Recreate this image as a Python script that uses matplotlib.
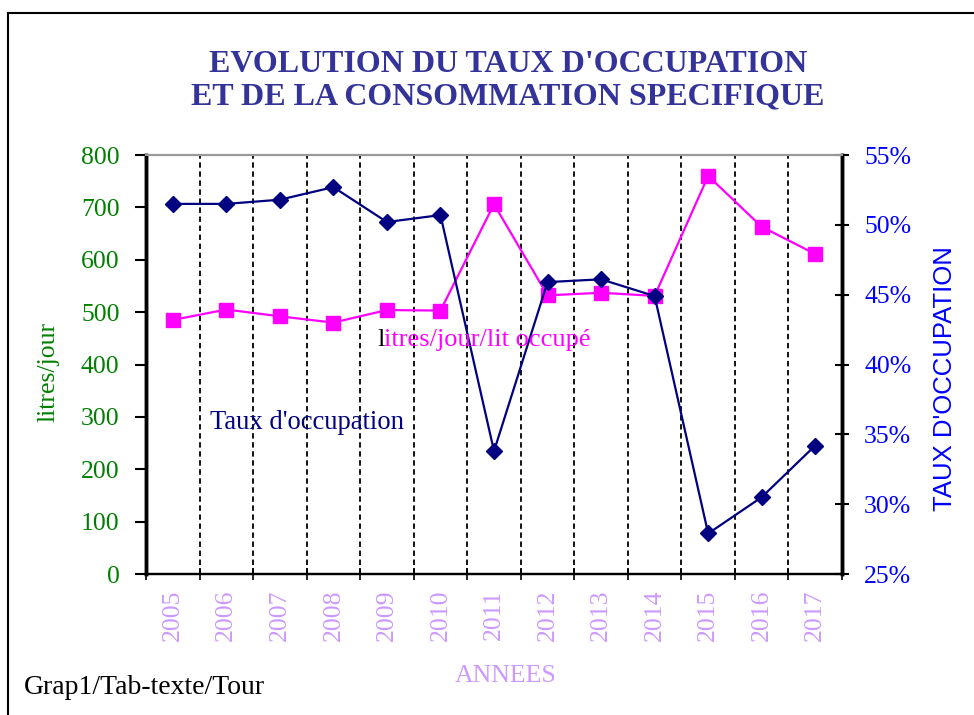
#!/usr/bin/env python3

import matplotlib
matplotlib.use("Agg")
import matplotlib.pyplot as plt
from matplotlib.lines import Line2D
from matplotlib.ticker import FixedLocator, FuncFormatter

plt.rcParams["font.family"] = ["Liberation Serif", "DejaVu Serif"]

# data
annees = ["2005", "2006", "2007", "2008", "2009", "2010", "2011",
          "2012", "2013", "2014", "2015", "2016", "2017"]
litres_lit = [485, 505, 492, 480, 504, 503, 706, 532, 537, 531, 760, 663, 611]
taux_occ = [51.5, 51.5, 51.8, 52.7, 50.2, 50.7, 33.8, 45.9, 46.1, 44.9, 27.9, 30.5, 34.2]

GREEN = "#008000"
BLUE = "#0000FF"
MAGENTA = "#FF00FF"
NAVY = "#000080"
VIOLET = "#CC99FF"

fig = plt.figure(figsize=(9.74, 7.15), dpi=100)
ax = fig.add_axes([0.1499, 0.1972, 0.7146, 0.586])
ax2 = ax.twinx()

x = list(range(len(annees)))

# vertical dashed separators between the years
for k in range(len(annees) - 1):
    ax.axvline(k + 0.5, color="black", lw=1.3, linestyle=(0, (3, 2)), zorder=1)

ax.plot(x, litres_lit, color=MAGENTA, lw=1.6, marker="s", markersize=10,
        markerfacecolor=MAGENTA, markeredgecolor=MAGENTA, zorder=3)
ax2.plot(x, taux_occ, color=NAVY, lw=1.6, marker="D", markersize=8.5,
         markerfacecolor=NAVY, markeredgecolor=NAVY, zorder=3)

ax.set_xlim(-0.5, len(annees) - 0.5)
ax.set_ylim(0, 800)
ax.set_yticks(range(0, 801, 100))
ax2.set_ylim(25, 55)
ax2.set_yticks(range(25, 56, 5))
ax2.yaxis.set_major_formatter(FuncFormatter(lambda v, p: "{0:d}%".format(int(v))))

# year labels at centres, tick marks at the boundaries
ax.set_xticks(x)
ax.set_xticklabels(annees, rotation=90, color=VIOLET, fontsize=18.5)
ax.xaxis.set_minor_locator(FixedLocator([k - 0.5 for k in range(len(annees) + 1)]))
ax.tick_params(axis="x", which="major", length=0, pad=11)
ax.tick_params(axis="x", which="minor", direction="inout", length=9, width=1.2, color="black")

ax.tick_params(axis="y", labelcolor=GREEN, labelsize=18.5, length=8, width=1.5,
               direction="out", pad=11)
ax2.tick_params(axis="y", labelcolor=BLUE, labelsize=18.5, length=10, width=1.5,
                direction="inout", pad=11)

for a in (ax, ax2):
    a.spines["top"].set_color("#999999")
    a.spines["top"].set_linewidth(1.5)
    a.spines["left"].set_linewidth(2.5)
    a.spines["right"].set_linewidth(2.5)
    a.spines["bottom"].set_linewidth(1.6)

ax.set_ylabel("litres/jour", color=GREEN, fontsize=18.5)
ax.yaxis.set_label_coords(-0.1236, 0.482)
ax2.set_ylabel("TAUX D'OCCUPATION", color=BLUE, fontsize=18.5,
               family=["Liberation Sans", "DejaVu Sans"])
ax2.yaxis.set_label_coords(1.1307, 0.4666)
ax.set_xlabel("ANNEES", color=VIOLET, fontsize=18.5)
ax.xaxis.set_label_coords(0.516, -0.217)

# series names written inside the plot (first letter of the first one is black)
t_l = ax2.text(0.332, 0.5442, "l", color="black", fontsize=19,
               transform=ax.transAxes, ha="left", va="baseline", zorder=6)
ax2.annotate("itres/jour/lit occupé", xy=(1, 0), xycoords=t_l, color=MAGENTA,
             fontsize=19, ha="left", va="bottom", zorder=5)
ax2.text(0.092, 0.346, "Taux d'occupation", color=NAVY, fontsize=19.2,
         transform=ax.transAxes, ha="left", va="baseline", zorder=5)

fig.text(0.5216, 0.887, "EVOLUTION DU TAUX D'OCCUPATION\nET DE LA CONSOMMATION SPECIFIQUE",
         ha="center", va="center", fontsize=23, fontweight="bold", color="#333399",
         linespacing=1.15)

fig.text(24 / 974, 1 - 688 / 715, "Grap1/Tab-texte/Tour", ha="left", va="center",
         fontsize=20, color="black")

# frame around the sheet (left and top edges visible)
fig.add_artist(Line2D([8 / 974, 8 / 974], [0, 1 - 13 / 715], color="black", lw=1.5,
                      transform=fig.transFigure))
fig.add_artist(Line2D([8 / 974, 1], [1 - 13 / 715, 1 - 13 / 715], color="black", lw=1.5,
                      transform=fig.transFigure))

fig.savefig("out.png", dpi=100)
